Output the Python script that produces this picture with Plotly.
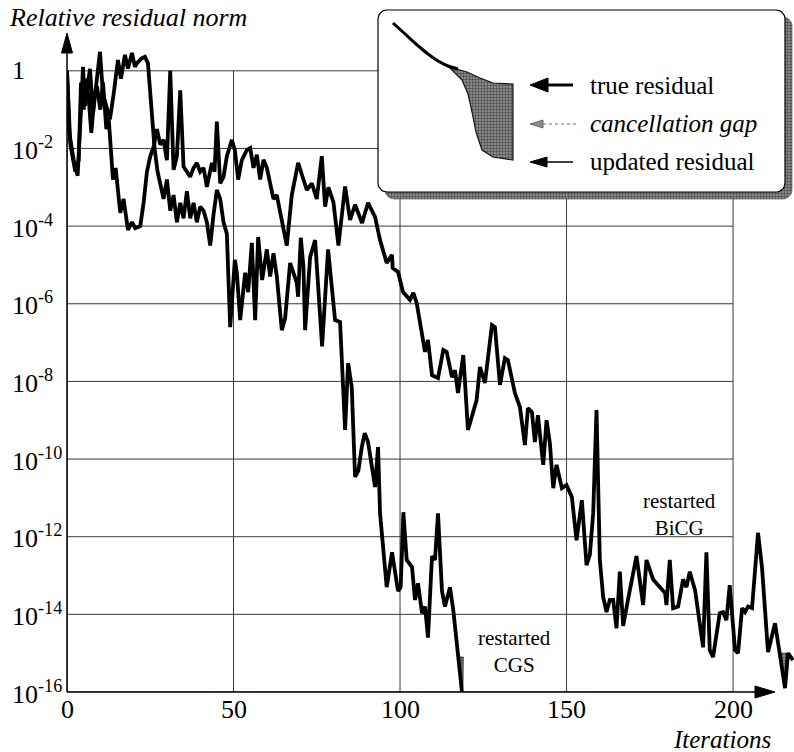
import numpy as np
import plotly.graph_objects as go

# ---------------------------------------------------------------------------
# Convergence histories: iteration number and log10 of the relative residual
# norm at the vertices of each polyline.
# ---------------------------------------------------------------------------
cgs_iter = [0, 0.7, 2.2, 3.2, 4.2, 4.8, 5.4, 6.2, 6.9, 7.8, 8.6, 9.9, 10.8, 11.8,
            12.9, 14.0, 15.3, 16.2, 17.4, 18.3, 19.5, 20.4, 21.0, 22.4, 23.4, 24.3,
            25.3, 26.3, 27.2, 28.0, 29.0, 30.0, 31.0, 32.0, 33.0, 34.0, 35.0, 36.0,
            37.0, 38.0, 39.0, 40.0, 41.0, 42.0, 43.0, 44.0, 45.0, 46.0, 47.0, 48.0,
            49.0, 50.4, 51.0, 52.0, 53.5, 54.4, 55.5, 56.5, 57.4, 58.6, 60.0, 61.0,
            62.0, 63.0, 64.5, 65.5, 67.0, 69.0, 69.4, 70.2, 71.0, 71.5, 73.0, 74.5,
            76.6, 78.4, 80.5, 82.0, 83.5, 84.4, 85.5, 86.5, 87.5, 88.5, 89.4, 90.4,
            91.5, 92.5, 93.4, 94.0, 96.0, 97.6, 99.4, 100.2, 101.0, 102.0, 103.6,
            104.5, 105.4, 106.6, 107.5, 108.4, 109.6, 110.5, 111.4, 112.6, 113.5,
            115.0, 116.0, 117.4, 118.6]
cgs_log_res = [0.0, -1.6, -2.4, -2.7, -1.0, 0.1, -0.9, -0.3, 0.05, -1.1, -0.5, 0.49,
               -0.6, -0.9, -1.25, -0.6, 0.28, -0.2, 0.41, 0.06, 0.46, 0.1, 0.2, 0.32,
               0.36, 0.2, -0.9, -2.0, -2.6, -2.9, -3.3, -2.8, -3.6, -3.2, -3.9, -3.4,
               -3.8, -3.1, -3.8, -3.4, -3.9, -3.5, -3.6, -3.9, -4.5, -3.7, -3.07, -3.3,
               -3.9, -4.2, -6.6, -4.87, -5.2, -6.42, -5.2, -5.7, -4.43, -6.42, -4.28,
               -5.39, -4.6, -5.3, -4.7, -5.3, -6.68, -6.37, -4.95, -5.46, -5.82, -4.3,
               -5.05, -6.68, -4.8, -4.36, -7.1, -4.6, -6.42, -6.47, -9.25, -7.53,
               -8.14, -10.46, -10.3, -9.7, -9.33, -9.56, -10.2, -10.72, -9.69, -11.4,
               -13.3, -12.4, -13.4, -13.3, -11.37, -12.6, -12.78, -13.63, -13.2,
               -13.97, -13.8, -14.6, -12.5, -12.6, -11.4, -13.4, -13.8, -13.3, -13.9,
               -15.1, -16.0]

bicg_iter = [0, 1.0, 2.5, 3.5, 4.2, 5.0, 5.8, 6.5, 7.3, 8.2, 9.0, 10.0, 10.8, 11.8,
             12.5, 13.2, 13.8, 14.6, 15.3, 16.0, 17.0, 18.3, 19.5, 20.5, 22.0, 23.0,
             24.0, 25.0, 26.0, 27.0, 28.0, 29.0, 30.0, 31.0, 32.0, 33.0, 34.0, 35.0,
             36.0, 37.0, 38.0, 39.0, 40.0, 41.0, 42.0, 43.5, 44.3, 45.0, 46.0, 47.0,
             48.0, 49.5, 50.4, 51.4, 52.5, 54.0, 55.0, 56.0, 57.0, 58.0, 59.0, 60.0,
             61.0, 62.0, 63.0, 64.0, 66.0, 67.5, 69.4, 71.0, 72.0, 73.5, 75.0, 76.5,
             77.5, 78.5, 80.0, 81.5, 83.5, 85.0, 86.5, 88.6, 90.4, 92.5, 94.0, 96.0,
             97.6, 97.8, 99.4, 100.9, 103.0, 104.0, 105.0, 107.5, 108.4, 109.6, 111.4,
             113.0, 114.0, 115.6, 116.5, 117.4, 119.0, 120.4, 121.6, 123.0, 124.0,
             125.5, 127.6, 128.5, 130.0, 131.5, 132.4, 134.5, 136.0, 137.5, 138.4,
             139.6, 140.5, 141.4, 143.0, 144.0, 145.0, 146.0, 147.0, 148.6, 150.0,
             151.6, 153.0, 154.6, 156.0, 157.0, 158.0, 159.0, 160.0, 161.0, 162.0,
             163.0, 164.0, 165.0, 166.0, 167.0, 168.5, 171.0, 173.0, 174.0, 176.0,
             178.0, 179.6, 180.0, 181.0, 182.0, 183.5, 185.0, 186.0, 187.0, 188.6,
             191.0, 192.0, 193.0, 194.0, 196.0, 197.0, 198.0, 199.0, 200.6, 201.5,
             202.7, 203.6, 204.5, 205.7, 207.5, 208.7, 210.5, 212.6, 214.0, 215.6,
             216.5, 218.0]
bicg_log_res = [0.0, -1.9, -2.6, -2.3, -0.3, -1.0, -0.2, -0.7, -1.6, -0.7, -0.4, -1.0,
                -0.3, -1.5, -1.2, -2.1, -2.8, -2.5, -3.07, -3.66, -3.3, -4.1, -3.9,
                -4.05, -4.0, -3.4, -2.6, -2.2, -1.96, -1.5, -1.9, -1.78, -2.3, 0.0,
                -2.55, -2.2, -0.5, -2.47, -2.6, -2.73, -2.5, -2.37, -2.6, -2.5, -2.99,
                -2.37, -2.6, -1.31, -2.9, -2.73, -2.2, -1.78, -2.04, -2.8, -2.3, -2.04,
                -1.99, -2.5, -2.16, -2.8, -2.29, -2.5, -2.9, -3.3, -3.2, -3.66, -4.5,
                -3.2, -2.37, -2.8, -3.07, -2.9, -3.3, -2.2, -3.5, -3.0, -3.38, -4.5,
                -2.98, -3.84, -3.45, -3.92, -3.4, -3.76, -4.36, -4.95, -4.74, -5.08,
                -5.18, -5.7, -5.9, -5.72, -5.98, -7.24, -6.93, -7.84, -7.91, -7.19,
                -7.24, -7.89, -7.71, -8.3, -7.32, -9.25, -8.87, -8.48, -7.63, -8.04,
                -6.55, -6.6, -8.09, -7.4, -7.45, -8.3, -8.66, -9.64, -8.69, -8.79,
                -9.56, -8.87, -10.15, -9.0, -9.59, -10.75, -10.15, -10.75, -10.67,
                -10.98, -12.09, -11.06, -12.73, -12.47, -11.4, -8.74, -12.6, -13.56,
                -13.94, -13.63, -13.63, -14.36, -12.9, -14.3, -13.6, -12.5, -13.76,
                -12.6, -13.1, -13.3, -13.45, -13.76, -12.6, -13.84, -13.8, -13.1,
                -13.3, -12.9, -13.38, -14.85, -12.4, -14.92, -15.1, -13.97, -13.94,
                -14.15, -13.25, -14.92, -15.0, -13.84, -13.94, -13.8, -13.84, -11.9,
                -12.8, -14.97, -14.23, -15.0, -15.9, -15.0, -15.18]

# Cancellation gap between true and updated residual at the end of each run
cgs_gap_iter = [117.4, 119.0, 118.9, 118.6, 118.2]
cgs_gap_log = [-15.1, -15.1, -15.8, -16.0, -15.7]
bicg_gap_iter = [214.0, 216.5, 215.6]
bicg_gap_log = [-15.0, -15.0, -15.9]

x_ticks = [0, 50, 100, 150, 200]
y_tick_exps = [0, -2, -4, -6, -8, -10, -12, -14, -16]
y_tick_labels = ["1"] + ["10<sup>%d</sup>" % e for e in y_tick_exps[1:]]

legend_labels = ["true residual", "cancellation gap", "updated residual"]

# ---------------------------------------------------------------------------
FONT = "Liberation Serif"
W, H = 794, 752
PL, PR, PT, PB = 67, 794, 32, 692          # plot area in page pixels

# dark stipple used for the gap and the drop shadow
DOTS = dict(shape=".", fgcolor="black", bgcolor="#9a9a9a", size=3, solidity=0.5)

fig = go.Figure()

# grid drawn inside [0, 200] x [1e-16, 1]
gx, gy = [], []
for xv in x_ticks:
    gx += [xv, xv, None]
    gy += [10.0 ** y_tick_exps[-1], 10.0 ** y_tick_exps[0], None]
for e in y_tick_exps:
    gx += [x_ticks[0], x_ticks[-1], None]
    gy += [10.0 ** e, 10.0 ** e, None]
fig.add_trace(go.Scatter(x=gx, y=gy, mode="lines", line=dict(color="#3a3a3a", width=1),
                         hoverinfo="skip", showlegend=False))

# cancellation gap patches
for gi, gl in ((cgs_gap_iter, cgs_gap_log), (bicg_gap_iter, bicg_gap_log)):
    fig.add_trace(go.Scatter(
        x=gi, y=10.0 ** np.array(gl), mode="lines", fill="toself",
        line=dict(color="#222", width=0.8), fillcolor="#9a9a9a", fillpattern=DOTS,
        hoverinfo="skip", showlegend=False))

# convergence curves
for name, it, lr in (("restarted CGS", cgs_iter, cgs_log_res),
                     ("restarted BiCG", bicg_iter, bicg_log_res)):
    fig.add_trace(go.Scatter(x=it, y=10.0 ** np.array(lr), mode="lines", name=name,
                             line=dict(color="black", width=3.8), showlegend=False))

# ---------------------------------------------------------------------------
# Page-pixel overlay for the axis arrows and the explanatory inset
# ---------------------------------------------------------------------------
def px(xs, ys, **kw):
    fig.add_trace(go.Scatter(x=xs, y=ys, xaxis="x2", yaxis="y2", hoverinfo="skip",
                             showlegend=False, **kw))


def rounded_rect(x0, y0, x1, y1, r):
    xs, ys = [], []
    corners = [(x1 - r, y0 + r, -90, 0), (x1 - r, y1 - r, 0, 90),
               (x0 + r, y1 - r, 90, 180), (x0 + r, y0 + r, 180, 270)]
    for cx, cy, a0, a1 in corners:
        t = np.radians(np.linspace(a0, a1, 8))
        xs += list(cx + r * np.cos(t))
        ys += list(cy + r * np.sin(t))
    return xs + [xs[0]], ys + [ys[0]]


# axes with arrowheads
px([PL, PL], [PB, 50], mode="lines", line=dict(color="black", width=1.5))
px([PL, 758], [PB, PB], mode="lines", line=dict(color="black", width=1.5))
px([PL, PL - 5.5, PL + 5.5, PL], [33, 53, 53, 33], mode="lines", fill="toself",
   fillcolor="black", line=dict(color="black", width=1))
px([775, 755, 755, 775], [PB, PB - 6, PB + 6, PB], mode="lines", fill="toself",
   fillcolor="black", line=dict(color="black", width=1))

# inset: shadow, box
sx, sy = rounded_rect(385, 17, 792, 199, 9)
px(sx, sy, mode="lines", fill="toself", fillcolor="#9a9a9a",
   line=dict(color="#444", width=0.6), fillpattern=DOTS)
bx, by = rounded_rect(378, 10, 785, 192, 9)
px(bx, by, mode="lines", fill="toself", fillcolor="white",
   line=dict(color="black", width=1.2))

# inset: schematic of a stagnating true residual and the gap
swatch_x = [437, 445, 453, 467, 480, 493, 513, 513, 493, 482, 476, 472, 468, 462, 450, 437]
swatch_y = [60, 64, 68, 72, 78, 83, 84, 160, 157, 150, 132, 112, 94, 80, 68, 60]
px(swatch_x, swatch_y, mode="lines", fill="toself", fillcolor="#9a9a9a",
   line=dict(color="#111", width=1.2), fillpattern=DOTS)
px([393, 404, 416, 428, 438, 448, 458], [23, 33, 44, 54, 61, 66, 69], mode="lines",
   line=dict(color="black", width=3, shape="spline"))

# inset arrows
px([530, 548, 548, 530], [85, 78, 92, 85], mode="lines", fill="toself",
   fillcolor="black", line=dict(color="black", width=1))
px([546, 573], [85, 85], mode="lines", line=dict(color="black", width=3))
px([530, 543, 543, 530], [124, 120, 128, 124], mode="lines", fill="toself",
   fillcolor="#999", line=dict(color="#555", width=0.8),
   fillpattern=dict(shape=".", fgcolor="#222", bgcolor="#aaa", size=2, solidity=0.5))
px([543, 577], [124, 124], mode="lines", line=dict(color="#666", width=1, dash="dot"))
px([530, 547, 547, 530], [162, 157, 167, 162], mode="lines", fill="toself",
   fillcolor="black", line=dict(color="black", width=1))
px([546, 573], [162, 162], mode="lines", line=dict(color="black", width=1.5))

annotations = []
for lbl, yy, ital in zip(legend_labels, [85, 123, 161], [False, True, False]):
    annotations.append(dict(
        x=588, y=yy, xref="x2", yref="y2", xanchor="left", yanchor="middle",
        text="<i>%s</i>" % lbl if ital else lbl, showarrow=False,
        font=dict(family=FONT, size=25, color="black")))

# axis titles
annotations.append(dict(x=7, y=17, xref="x2", yref="y2", xanchor="left", yanchor="middle",
                        text="<i>Relative residual norm</i>", showarrow=False,
                        font=dict(family=FONT, size=26, color="black")))
annotations.append(dict(x=722, y=739, xref="x2", yref="y2", xanchor="center",
                        yanchor="middle", text="<i>Iterations</i>", showarrow=False,
                        borderpad=0, font=dict(family=FONT, size=25, color="black")))

# tick labels
for xv in x_ticks:
    annotations.append(dict(x=xv, y=709, xref="x", yref="y2", xanchor="center",
                            yanchor="middle", text=str(xv), showarrow=False, borderpad=0,
                            font=dict(family=FONT, size=26, color="black")))
for e, lbl in zip(y_tick_exps, y_tick_labels):
    annotations.append(dict(x=10 / W, y=e, xref="paper", yref="y", xanchor="left",
                            yanchor="middle", text=lbl, showarrow=False,
                            font=dict(family=FONT, size=26, color="black")))

# curve labels
annotations.append(dict(x=134.5, y=-14.95, xref="x", yref="y", text="restarted<br>CGS",
                        showarrow=False, font=dict(family=FONT, size=21, color="black")))
annotations.append(dict(x=184, y=-11.42, xref="x", yref="y", text="restarted<br>BiCG",
                        showarrow=False, font=dict(family=FONT, size=21, color="black")))

fig.update_layout(
    width=W, height=H,
    margin=dict(l=0, r=0, t=0, b=0),
    paper_bgcolor="white", plot_bgcolor="rgba(0,0,0,0)",
    showlegend=False,
    font=dict(family=FONT, color="black"),
    xaxis=dict(domain=[PL / W, PR / W], range=[0, 218.3], showgrid=False, zeroline=False,
               showline=False, showticklabels=False, ticks=""),
    yaxis=dict(domain=[(H - PB) / H, (H - PT) / H], type="log", range=[-16, 1],
               showgrid=False, zeroline=False, showline=False, showticklabels=False,
               ticks=""),
    xaxis2=dict(domain=[0, 1], range=[0, W], visible=False, anchor="y2"),
    yaxis2=dict(domain=[0, 1], range=[H, 0], visible=False, anchor="x2"),
    annotations=annotations,
)

fig.write_html("out.html")
